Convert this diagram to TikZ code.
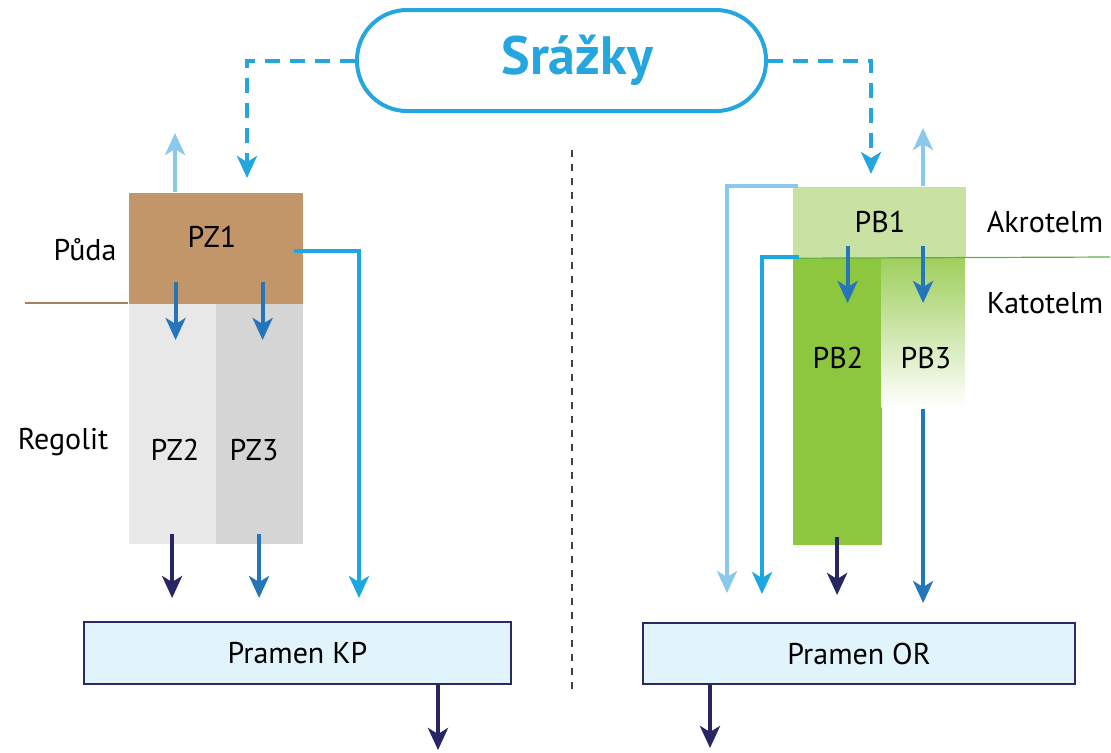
\documentclass[tikz,border=0pt]{standalone}
\usepackage{fontspec}
\setmainfont{PT Sans}
\usepackage{tikz}
\usetikzlibrary{arrows.meta}
\definecolor{rain_blue}{RGB}{38,166,222}
\definecolor{soil_brown}{RGB}{194,150,105}
\definecolor{rego_light}{RGB}{232,232,232}
\definecolor{rego_dark}{RGB}{213,213,213}
\definecolor{acro_green}{RGB}{201,226,163}
\definecolor{cato_green}{RGB}{141,198,63}
\definecolor{spring_fill}{RGB}{225,244,252}
\definecolor{edge_navy}{RGB}{43,42,105}
\definecolor{flow_light}{RGB}{138,201,236}
\definecolor{flow_cyan}{RGB}{27,167,226}
\definecolor{flow_blue}{RGB}{37,117,187}
\definecolor{flow_navy}{RGB}{40,38,98}
\definecolor{line_brown}{RGB}{160,130,95}
\definecolor{line_green}{RGB}{95,175,70}

\begin{document}
\begin{tikzpicture}[x=0.5pt,y=-0.5pt,semithick,>={Stealth[length=11pt,width=10pt,inset=3pt]}]
    \tikzstyle{box}=[rectangle, draw=none, inner sep=0pt, anchor=north west]
    \tikzstyle{lbl}=[inner sep=0pt, text=black, font=\fontsize{15}{17}\selectfont]
    \tikzstyle{spring}=[rectangle, draw=edge_navy, line width=1pt, fill=spring_fill, anchor=north west, font=\fontsize{15}{17}\selectfont]
    \tikzstyle{flow}=[->, line width=2pt]
    \tikzstyle{rain}=[flow, rain_blue, dash pattern=on 7.5pt off 5pt]

    \useasboundingbox (0,0) rectangle (1111,752);

    % precipitation
    \node[draw=rain_blue, line width=2pt, rounded corners=25pt, minimum width=204.5pt, minimum height=50.5pt,
          inner sep=0pt, text=rain_blue, font=\bfseries\fontsize{27}{30}\selectfont] (rain) at (561.5,60.5) {\hspace*{16pt}Srážky};

    % soil catchment
    \node[box, fill=soil_brown, minimum width=87pt, minimum height=55.5pt] (pz1) at (128,192) {};
    \node[box, fill=rego_light, minimum width=43.5pt, minimum height=120pt] (pz2) at (128,303) {};
    \node[box, fill=rego_dark, minimum width=43.5pt, minimum height=120pt] (pz3) at (215,303) {};
    \node[spring, minimum width=213.5pt, minimum height=31pt] (kp) at (83,621) {Pramen KP};

    % peat bog catchment
    \node[box, fill=acro_green, minimum width=86.5pt, minimum height=35.5pt] (pb1) at (792,186) {};
    \node[box, fill=cato_green, minimum width=44.5pt, minimum height=143.5pt] (pb2) at (792,257) {};
    \node[box, top color=cato_green!85, bottom color=white, minimum width=41.5pt, minimum height=75pt] (pb3) at (881,257) {};
    \node[spring, minimum width=216pt, minimum height=30.5pt] (or) at (642,622) {Pramen OR};

    % labels
    \node[lbl] (puda)    at (85,250)   {Půda};
    \node[lbl] (regolit) at (63,442)   {Regolit};
    \node[lbl] (pz1_t)   at (212,237)  {PZ1};
    \node[lbl] (pz2_t)   at (175,450)  {PZ2};
    \node[lbl] (pz3_t)   at (254,450)  {PZ3};
    \node[lbl] (pb1_t)   at (880,222)  {PB1};
    \node[lbl] (pb2_t)   at (838,358)  {PB2};
    \node[lbl] (pb3_t)   at (926,358)  {PB3};
    \node[lbl] (akro)    at (1045,222) {Akrotelm};
    \node[lbl] (kato)    at (1045,303) {Katotelm};

    % layer boundaries and divider
    \coordinate (soil_end) at (25,303);
    \coordinate (bog_end) at (1110,257);
    \draw[line_brown, line width=0.6pt] (soil_end) -- (pz2.north west);
    \draw[line_green, line width=0.6pt] (pb1.south west) -- (bog_end);
    \draw[black!75, line width=0.6pt, dash pattern=on 3.5pt off 3.5pt] (572,150) -- (572,690);

    % free ends
    \coordinate (evap_l) at (175,133);
    \coordinate (evap_r) at (923,128);
    \coordinate (in_l)   at (247,178);
    \coordinate (in_r)   at (871,174);
    \coordinate (q_kp)   at (359,598);
    \coordinate (q_or1)  at (727,593);
    \coordinate (q_or2)  at (762,594);
    \coordinate (out_kp) at (438,750);
    \coordinate (out_or) at (710,748);

    \draw[rain] (rain.west) -| (in_l);
    \draw[rain] (rain.east) -| (in_r);
    \draw[flow, flow_light] (evap_l |- pz1.north) -- (evap_l);
    \draw[flow, flow_light] (evap_r |- pb1.north) -- (evap_r);

    % left side
    \draw[flow, flow_blue] ([xshift=1.75pt,yshift=10.5pt]pz2.north) -- ([xshift=1.75pt,yshift=-18.5pt]pz2.north);
    \draw[flow, flow_blue] ([xshift=1.75pt,yshift=10.5pt]pz3.north) -- ([xshift=1.75pt,yshift=-18.5pt]pz3.north);
    \draw[flow, flow_cyan] ([xshift=-4.5pt,yshift=-1.25pt]pz1.east) -| (q_kp);
    \draw[flow, flow_navy] ([yshift=5pt]pz2.south) -- ([yshift=11.5pt]kp.north -| pz2.south);
    \draw[flow, flow_blue] ([yshift=5pt]pz3.south) -- ([yshift=11.5pt]kp.north -| pz3.south);
    \draw[flow, flow_navy] (out_kp |- kp.south) -- (out_kp);

    % right side
    \draw[flow, flow_light] ([xshift=3pt]pb1.north west) -| (q_or1);
    \draw[flow, flow_cyan] ([xshift=3.5pt]pb2.north west) -| (q_or2);
    \draw[flow, flow_blue] ([xshift=5.25pt,yshift=5.5pt]pb2.north) -- ([xshift=5.25pt,yshift=-23pt]pb2.north);
    \draw[flow, flow_blue] ([yshift=5.5pt]pb3.north) -- ([yshift=-23pt]pb3.north);
    \draw[flow, flow_navy] ([yshift=4pt]pb2.south) -- ([yshift=13.5pt]or.north -| pb2.south);
    \draw[flow, flow_blue] ([yshift=-0.5pt]pb3.south) -- ([yshift=9.5pt]or.north -| pb3.south);
    \draw[flow, flow_navy] (out_or |- or.south) -- (out_or);
\end{tikzpicture}
\end{document}
